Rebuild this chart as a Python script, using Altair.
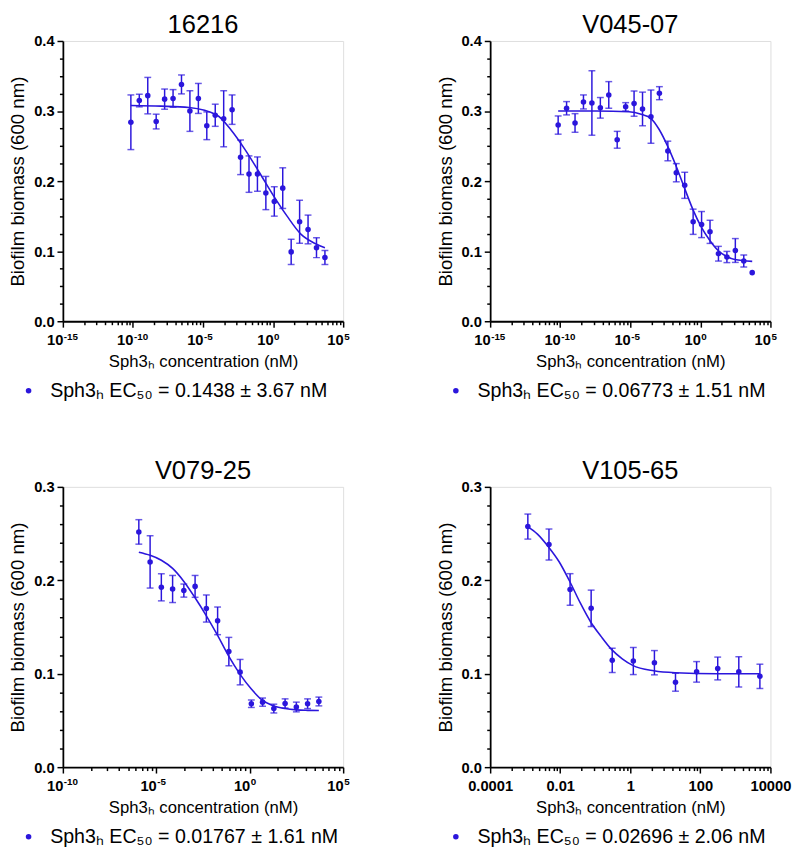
import altair as alt
import pandas as pd

FONT = "Liberation Sans"
BLUE = "#2b16dc"

# ---------------- data ----------------
titles = ["16216", "V045-07", "V079-25", "V105-65"]
legend_labels = [
    "Sph3ₕ EC₅₀ = 0.1438 ± 3.67 nM",
    "Sph3ₕ EC₅₀ = 0.06773 ± 1.51 nM",
    "Sph3ₕ EC₅₀ = 0.01767 ± 1.61 nM",
    "Sph3ₕ EC₅₀ = 0.02696 ± 2.06 nM",
]

conc_24 = [7.11e-11, 2.84e-10, 1.14e-9, 4.55e-9, 1.82e-8, 7.28e-8, 2.91e-7, 1.16e-6,
           4.66e-6, 1.86e-5, 7.45e-5, 2.98e-4, 1.19e-3, 4.77e-3, 1.91e-2, 7.63e-2,
           0.305, 1.22, 4.88, 19.5, 78.1, 312.5, 1250, 5000]
conc_17 = [1.16e-6, 4.66e-6, 1.86e-5, 7.45e-5, 2.98e-4, 1.19e-3, 4.77e-3, 1.91e-2,
           7.63e-2, 0.305, 1.22, 4.88, 19.5, 78.1, 312.5, 1250, 5000]
conc_12 = [1.19e-3, 4.77e-3, 1.91e-2, 7.63e-2, 0.305, 1.22, 4.88, 19.5, 78.1, 312.5,
           1250, 5000]

# panel 1 : 16216
p1_mean = [0.284, 0.315, 0.322, 0.285, 0.317, 0.318, 0.338, 0.300, 0.318, 0.279, 0.294, 0.289,
           0.302, 0.234, 0.210, 0.210, 0.183, 0.171, 0.190, 0.099, 0.142, 0.131, 0.105, 0.091]
p1_err = [0.039, 0.009, 0.026, 0.0105, 0.0144, 0.0126, 0.0135, 0.029, 0.0214, 0.0198, 0.0158, 0.040,
          0.021, 0.0247, 0.026, 0.0245, 0.0237, 0.021, 0.029, 0.018, 0.0307, 0.0205, 0.0142, 0.010]
p1_curve_x = [7.11e-11, 1e-8, 1e-6, 1e-4, 1e-3, 1e-2, 1e-1, 1, 10, 100, 1000, 5000]
p1_curve_y = [0.308, 0.307, 0.305, 0.294, 0.273, 0.245, 0.213, 0.180, 0.150, 0.124, 0.111, 0.105]

# panel 2 : V045-07
p2_mean = [0.280, 0.304, 0.283, 0.313, 0.3115, 0.3046, 0.323, 0.259, 0.306, 0.3106, 0.303, 0.292,
           0.3255, 0.243, 0.212, 0.194, 0.142, 0.138, 0.1276, 0.0964, 0.0917, 0.101, 0.086, 0.0694]
p2_err = [0.013, 0.0095, 0.0133, 0.010, 0.046, 0.0147, 0.019, 0.012, 0.006, 0.018, 0.024, 0.038,
          0.0093, 0.014, 0.013, 0.0186, 0.018, 0.0186, 0.0165, 0.0105, 0.008, 0.017, 0.0086, 0.0]
p2_curve_x = [7.11e-11, 3.8e-8, 8.1e-6, 6.9e-5, 2.8e-4, 1.12e-3, 4.6e-3, 1.82e-2, 7.4e-2,
              0.30, 1.2, 4.9, 18.6, 71, 290, 5000]
p2_curve_y = [0.300, 0.300, 0.299, 0.295, 0.290, 0.274, 0.250, 0.222, 0.190, 0.159, 0.134,
              0.115, 0.101, 0.0927, 0.088, 0.0855]

# panel 3 : V079-25
p3_mean = [0.2518, 0.2197, 0.1925, 0.1907, 0.189, 0.1935, 0.1698, 0.1566, 0.1237, 0.1017,
           0.0679, 0.0696, 0.0627, 0.0682, 0.0644, 0.0679, 0.0703]
p3_err = [0.0131, 0.028, 0.0145, 0.0145, 0.007, 0.0117, 0.0145, 0.0148, 0.0152, 0.0136,
          0.004, 0.0044, 0.0047, 0.0049, 0.0052, 0.0052, 0.0047]
p3_curve_x = conc_17
p3_curve_y = [0.230, 0.2267, 0.2215, 0.2127, 0.1988, 0.1813, 0.162, 0.141, 0.1185, 0.0993,
              0.0836, 0.0714, 0.0655, 0.0627, 0.0613, 0.0608, 0.0606]

# panel 4 : V105-65
p4_mean = [0.2575, 0.2383, 0.1902, 0.170, 0.1143, 0.1136, 0.1118, 0.0909, 0.102, 0.1056, 0.102, 0.0972]
p4_err = [0.0134, 0.0166, 0.0169, 0.0195, 0.013, 0.0145, 0.013, 0.0096, 0.011, 0.0122, 0.0162, 0.013]
p4_curve_x = [1.17e-3, 2.24e-3, 4.68e-3, 9.3e-3, 1.86e-2, 3.7e-2, 7.4e-2, 0.148, 0.295, 0.59,
              1.17, 4.7, 19, 295, 5000]
p4_curve_y = [0.2575, 0.2495, 0.2355, 0.2199, 0.199, 0.176, 0.1554, 0.1397, 0.1258, 0.116,
              0.109, 0.1031, 0.101, 0.100, 0.100]

# axis tick labels (powers of ten: base "10" + superscript exponent)
x_exps_wide = [-15, -10, -5, 0, 5]
x_sup_wide = ["-15", "-10", "-5", "0", "5"]
x_exps_mid = [-10, -5, 0, 5]
x_sup_mid = ["-10", "-5", "0", "5"]
x_labels_narrow = ["0.0001", "0.01", "1", "100", "10000"]
x_exps_narrow = [-4, -2, 0, 2, 4]

X_TITLE = "Sph3ₕ concentration (nM)"
Y_TITLE = "Biofilm biomass (600 nm)"

W, H = 286, 286


def x_axis(exps, labels, step, align):
    values = []
    for e in exps[:-1]:
        base = 10.0 ** e
        values.append(base)
        for m in range(2, 10):
            values.append(base * m ** step)
    values.append(10.0 ** exps[-1])
    expr = ""
    for e, lab in zip(exps, labels):
        expr += f"abs(log(datum.value)/LN10 - ({e})) < 0.001 ? '{lab}' : "
    expr += "''"
    major = f"abs(log(datum.value)/LN10/{step} - round(log(datum.value)/LN10/{step})) < 0.001"
    return alt.Axis(
        values=values, labelExpr=expr, title=X_TITLE,
        tickSize={"condition": {"test": major, "value": 6}, "value": 3.5},
        labelOverlap=False, labelFlush=False, grid=False, labelAlign=align,
        domainColor="black", domainWidth=1.8, tickColor="black", tickWidth=1.5,
        labelFont=FONT, labelFontWeight="bold", labelFontSize=15, labelColor="black",
        labelPadding=6,
        titleFont=FONT, titleFontSize=17, titleFontWeight="normal", titleColor="black",
        titlePadding=6,
    )


def y_axis(top, step):
    n = int(round(top / step))
    values = [round(i * step, 4) for i in range(n + 1)]
    major = "abs(datum.value*10 - round(datum.value*10)) < 0.001"
    return alt.Axis(
        values=values, labelExpr=f"{major} ? format(datum.value, '.1f') : ''",
        title=Y_TITLE,
        tickSize={"condition": {"test": major, "value": 6}, "value": 3.5},
        labelOverlap=False, labelFlush=False, grid=False,
        domainColor="black", domainWidth=1.8, tickColor="black", tickWidth=1.5,
        labelFont=FONT, labelFontWeight="bold", labelFontSize=15, labelColor="black",
        labelPadding=3,
        titleFont=FONT, titleFontSize=19, titleFontWeight="normal", titleColor="black",
        titlePadding=6,
    )


def panel(title, label, conc, mean, err, cx, cy, xdom, xaxis, ytop, ystep, sup=None):
    df = pd.DataFrame({"x": conc, "y": mean, "err": err})
    df["lo"] = df["y"] - df["err"]
    df["hi"] = df["y"] + df["err"]
    df["series"] = label
    dfe = df[df["err"] > 0]
    dc = pd.DataFrame({"x": cx, "y": cy})

    xs = alt.Scale(type="log", domain=xdom, nice=False)
    ys = alt.Scale(domain=[0, ytop], nice=False, zero=True)
    yax = y_axis(ytop, ystep)

    bars = alt.Chart(dfe).mark_errorbar(ticks=True, size=7, thickness=1.5, color=BLUE).encode(
        x=alt.X("x:Q", scale=xs, axis=xaxis),
        y=alt.Y("lo:Q", scale=ys, axis=yax),
        y2="hi:Q",
    )
    line = alt.Chart(dc).mark_line(color=BLUE, strokeWidth=1.6, interpolate="monotone").encode(
        x=alt.X("x:Q", scale=xs, axis=xaxis),
        y=alt.Y("y:Q", scale=ys, axis=yax),
    )
    pts = alt.Chart(df).mark_circle(size=32, opacity=1).encode(
        x=alt.X("x:Q", scale=xs, axis=xaxis),
        y=alt.Y("y:Q", scale=ys, axis=yax),
        color=alt.Color(
            "series:N",
            scale=alt.Scale(domain=[label], range=[BLUE]),
            legend=alt.Legend(
                title=None, orient="none", legendX=-45, legendY=347,
                symbolType="circle", symbolSize=32, symbolStrokeWidth=0,
                labelFont=FONT, labelFontSize=20, labelColor="black",
                labelLimit=500, labelOffset=12, padding=0,
            ),
        ),
    )
    layers = [bars, line, pts]
    if sup is not None:
        exps, sups = sup
        ds = pd.DataFrame({"x": [10.0 ** e for e in exps], "t": sups})
        layers.append(
            alt.Chart(ds).mark_text(align="left", baseline="alphabetic", dx=1, dy=18.7,
                                    font=FONT, fontSize=10, fontWeight="bold", color="black").encode(
                x=alt.X("x:Q", scale=xs, axis=xaxis),
                y=alt.YDatum(0, scale=ys, axis=yax),
                text="t:N",
            )
        )
    return alt.layer(*layers).properties(
        width=W, height=H,
        title=alt.TitleParams(title, font=FONT, fontSize=26, fontWeight="normal",
                              color="black", anchor="middle", offset=-4),
    )


ten = ["10"] * 5
p1 = panel(titles[0], legend_labels[0], conc_24, p1_mean, p1_err, p1_curve_x, p1_curve_y,
           [1e-15, 1e5], x_axis(x_exps_wide, ten, 5, "right"), 0.4, 0.025,
           sup=(x_exps_wide, x_sup_wide))
p2 = panel(titles[1], legend_labels[1], conc_24, p2_mean, p2_err, p2_curve_x, p2_curve_y,
           [1e-15, 1e5], x_axis(x_exps_wide, ten, 5, "right"), 0.4, 0.025,
           sup=(x_exps_wide, x_sup_wide))
p3 = panel(titles[2], legend_labels[2], conc_17, p3_mean, p3_err, p3_curve_x, p3_curve_y,
           [1e-10, 1e5], x_axis(x_exps_mid, ten[:4], 5, "right"), 0.3, 0.02,
           sup=(x_exps_mid, x_sup_mid))
p4 = panel(titles[3], legend_labels[3], conc_12, p4_mean, p4_err, p4_curve_x, p4_curve_y,
           [1e-4, 1e4], x_axis(x_exps_narrow, x_labels_narrow, 2, "center"), 0.3, 0.02)

res = dict(x="independent", y="independent", color="independent")
row1 = alt.hconcat(p1, p2, spacing=86).resolve_scale(**res).resolve_legend(color="independent")
row2 = alt.hconcat(p3, p4, spacing=86).resolve_scale(**res).resolve_legend(color="independent")

chart = alt.vconcat(row1, row2, spacing=57).resolve_scale(**res).resolve_legend(
    color="independent"
).properties(
    padding={"top": -5, "left": 0, "right": 0, "bottom": 0}
).configure_view(stroke=None).configure(background="white")

chart.save("out.html", embed_options={"renderer": "svg", "actions": False})
